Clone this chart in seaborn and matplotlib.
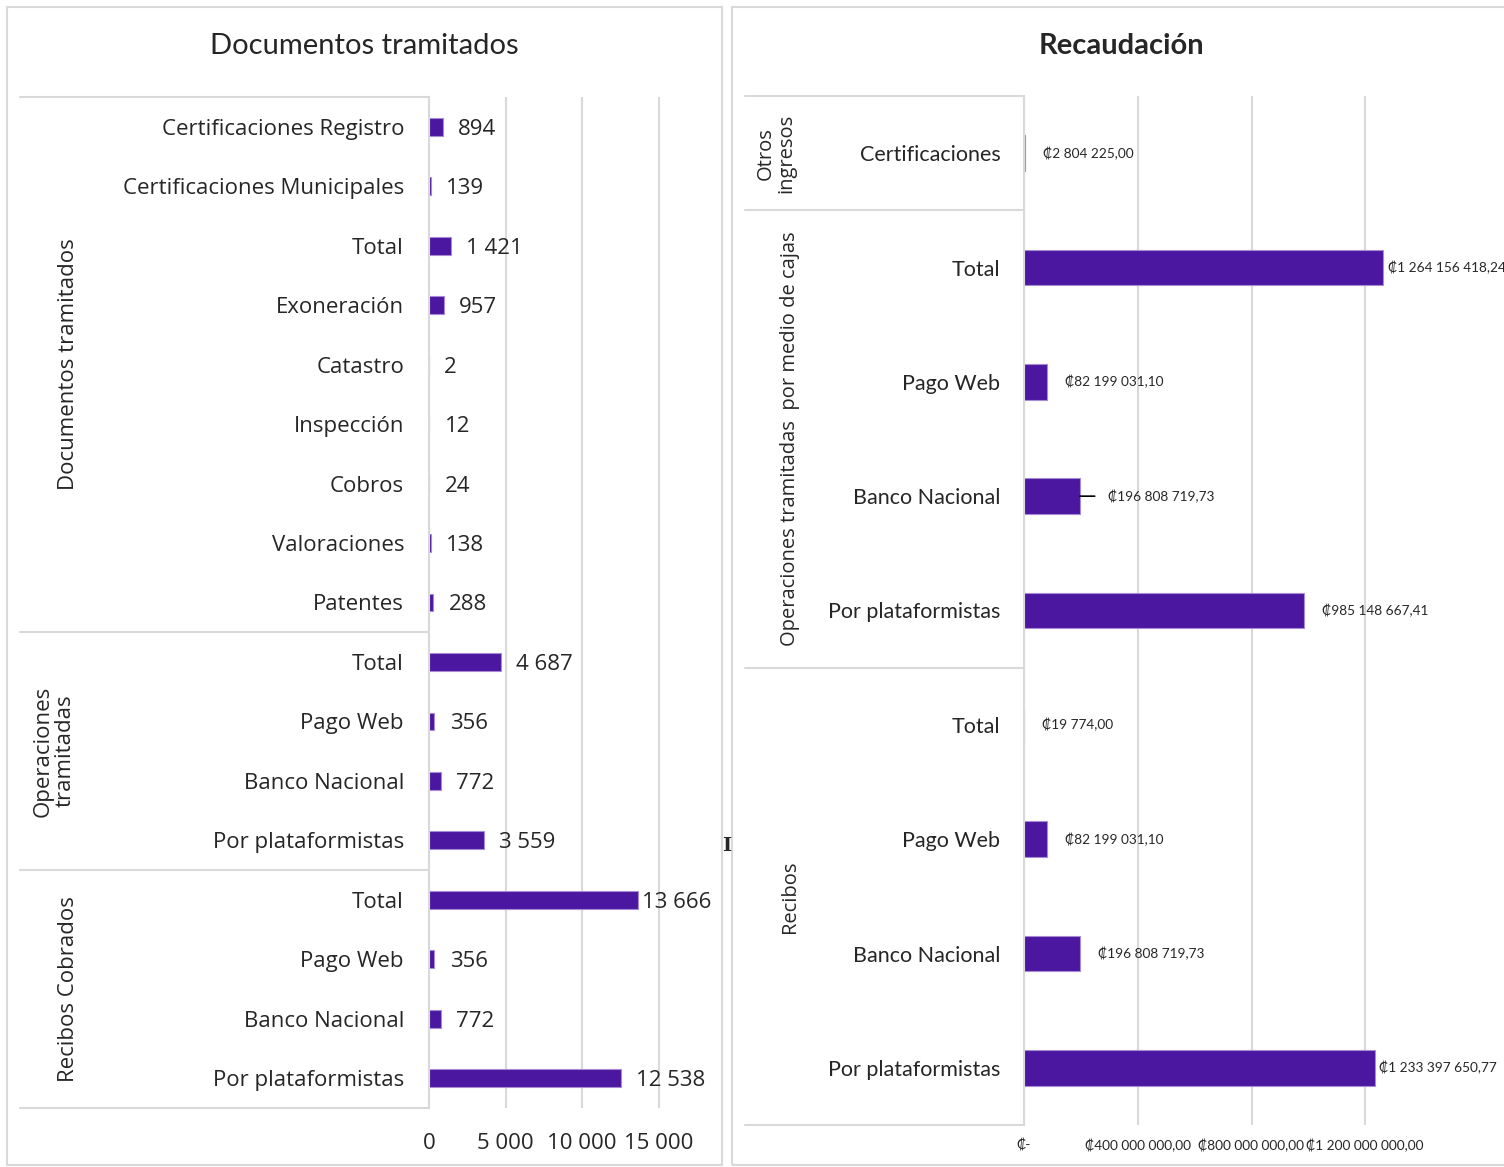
import numpy as np
import pandas as pd
import seaborn as sns
import matplotlib.pyplot as plt
from matplotlib.patches import Rectangle
from matplotlib.transforms import blended_transform_factory

# datos - documentos tramitados
doc_groups = ["Documentos tramitados"] * 9 + ["Operaciones\ntramitadas"] * 4 + ["Recibos Cobrados"] * 4
doc_labels = ["Certificaciones Registro", "Certificaciones Municipales", "Total", "Exoneración",
              "Catastro", "Inspección", "Cobros", "Valoraciones", "Patentes",
              "Total", "Pago Web", "Banco Nacional", "Por plataformistas",
              "Total", "Pago Web", "Banco Nacional", "Por plataformistas"]
doc_values = [894, 139, 1421, 957, 2, 12, 24, 138, 288,
              4687, 356, 772, 3559,
              13666, 356, 772, 12538]
doc_ticks = [0, 5000, 10000, 15000]

# datos - recaudacion
rec_groups = ["Otros\ningresos"] + ["Operaciones tramitadas  por medio de cajas"] * 4 + ["Recibos"] * 4
rec_labels = ["Certificaciones", "Total", "Pago Web", "Banco Nacional", "Por plataformistas",
              "Total", "Pago Web", "Banco Nacional", "Por plataformistas"]
rec_values = [2804225.00, 1264156418.24, 82199031.10, 196808719.73, 985148667.41,
              19774.00, 82199031.10, 196808719.73, 1233397650.77]
rec_ticks = [0, 400000000, 800000000, 1200000000]

BAR = "#4B16A0"
EDGE = "#A58BD6"
GRID = "#D9D9D9"
W, H = 1504, 1167

sns.set_theme(style="white")
plt.rcParams['font.family'] = ['Open Sans', 'DejaVu Sans']
CAL = ['Lato', 'DejaVu Sans']


def box(x0, y0, x1, y1):
    return [x0 / W, 1 - y1 / H, (x1 - x0) / W, (y1 - y0) / H]


def miles(v):
    return f"{v:,}".replace(",", " ")


def colones(v):
    if v == 0:
        return "₡-"
    s = f"{v:,.2f}"
    ent, dec = s.split(".")
    return "₡" + ent.replace(",", " ") + "," + dec


def group_bounds(groups):
    b = [-0.5]
    for i in range(1, len(groups)):
        if groups[i] != groups[i - 1]:
            b.append(i - 0.5)
    b.append(len(groups) - 0.5)
    return b


def draw_groups(ax, groups, x_left, gx_single, gx_double, fs, x0_px, width_px):
    trans = blended_transform_factory(ax.transAxes, ax.transData)
    xl = (x_left - x0_px) / width_px
    for b in group_bounds(groups):
        ax.plot([xl, 0], [b, b], transform=trans, clip_on=False, color=GRID, lw=1.5)
    seen = []
    for g in groups:
        if g in seen:
            continue
        seen.append(g)
        idx = [i for i, gg in enumerate(groups) if gg == g]
        yc = (idx[0] + idx[-1]) / 2
        gx = gx_double if "\n" in g else gx_single
        ax.text((gx - x0_px) / width_px, yc, g, transform=trans, rotation=90,
                ha="center", va="center", fontsize=fs, linespacing=1.05)
    ax.set_ylim(len(groups) - 0.5, -0.5)


fig = plt.figure(figsize=(W / 100, H / 100), dpi=100)

# marcos de los graficos
fig.add_artist(Rectangle((7 / W, 1 - 1165 / H), 715 / W, 1158 / H, transform=fig.transFigure,
                         fill=False, ec=GRID, lw=1.5))
fig.add_artist(Rectangle((732 / W, 1 - 1165 / H), 800 / W, 1158 / H, transform=fig.transFigure,
                         fill=False, ec=GRID, lw=1.5))

# ---- Documentos tramitados
ax1 = fig.add_axes(box(429, 97, 720, 1108))
df1 = pd.DataFrame({"key": [str(i) for i in range(len(doc_values))], "valor": doc_values})
sns.barplot(data=df1, x="valor", y="key", orient="h", color=BAR, width=0.3,
            edgecolor=EDGE, linewidth=0.8, saturation=1, ax=ax1)
ax1.set_xlim(0, 19000)
ax1.set_xticks(doc_ticks)
ax1.set_xticklabels([miles(t) for t in doc_ticks], fontsize=16)
ax1.set_yticks(range(len(doc_labels)))
ax1.set_yticklabels(doc_labels, fontsize=16)
ax1.tick_params(axis="y", length=0, pad=18)
ax1.tick_params(axis="x", length=0, pad=18)
ax1.set_xlabel("")
ax1.set_ylabel("")
ax1.xaxis.grid(True, color=GRID, lw=1.5)
ax1.set_axisbelow(True)
for s in ["top", "right", "bottom"]:
    ax1.spines[s].set_visible(False)
ax1.spines["left"].set_color(GRID)
ax1.spines["left"].set_linewidth(1.5)
for i, v in enumerate(doc_values):
    pad = 3 if v == max(doc_values) else 11
    ax1.annotate(miles(v), xy=(v, i), xytext=(pad, 0), textcoords="offset points",
                 va="center_baseline", ha="left", fontsize=16, annotation_clip=False)
draw_groups(ax1, doc_groups, 20, 68, 54, 16, 429, 291)

# ---- Recaudacion
ax2 = fig.add_axes(box(1024, 96, 1479, 1125))
df2 = pd.DataFrame({"key": [str(i) for i in range(len(rec_values))], "valor": rec_values})
sns.barplot(data=df2, x="valor", y="key", orient="h", color=BAR, width=0.31,
            edgecolor=EDGE, linewidth=0.8, saturation=1, ax=ax2)
ax2.set_xlim(0, 1.6e9)
ax2.set_xticks(rec_ticks)
ax2.set_xticklabels([colones(t) for t in rec_ticks], fontsize=9.8, family=CAL)
ax2.set_yticks(range(len(rec_labels)))
ax2.set_yticklabels(rec_labels, fontsize=15.5, family=CAL)
ax2.tick_params(axis="y", length=0, pad=17)
ax2.tick_params(axis="x", length=0, pad=10)
ax2.set_xlabel("")
ax2.set_ylabel("")
ax2.xaxis.grid(True, color=GRID, lw=1.5)
ax2.set_axisbelow(True)
for s in ["top", "right", "bottom"]:
    ax2.spines[s].set_visible(False)
ax2.spines["left"].set_color(GRID)
ax2.spines["left"].set_linewidth(1.5)
for i, v in enumerate(rec_values):
    if i == 3:
        ax2.annotate(colones(v), xy=(v, i), xytext=(20, 0), textcoords="offset points",
                     va="center", ha="left", fontsize=9.8, family=CAL, annotation_clip=False,
                     arrowprops=dict(arrowstyle="-", color="black", lw=1.2, shrinkA=7, shrinkB=0))
        continue
    pad = 3 if v > 1.1e9 else 13
    ax2.annotate(colones(v), xy=(v, i), xytext=(pad, 0), textcoords="offset points",
                 va="center", ha="left", fontsize=9.8, family=CAL, annotation_clip=False)
draw_groups(ax2, rec_groups, 745, 790, 776, 14.5, 1024, 455)

# titulos
fig.text(364 / W, 1 - 46 / H, "Documentos tramitados", ha="center", va="center", fontsize=21, family=CAL)
fig.text(1121 / W, 1 - 46 / H, "Recaudación", ha="center", va="center", fontsize=21,
         fontweight="bold", family=CAL)
fig.text(727 / W, 1 - 846 / H, "I", ha="center", va="center", fontsize=14, fontweight="bold",
         family="DejaVu Serif")

fig.savefig("out.png", dpi=100)
